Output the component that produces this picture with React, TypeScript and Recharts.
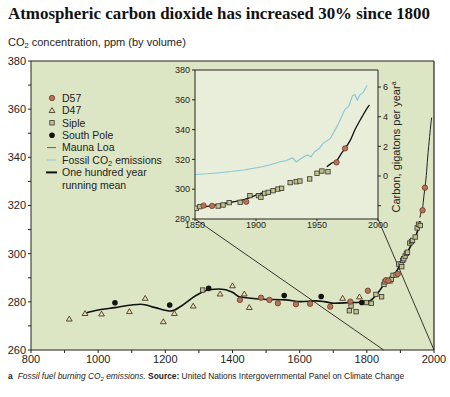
import React from 'react';
import {
  ComposedChart, Scatter, Line, XAxis, YAxis, CartesianGrid, ReferenceLine,
} from 'recharts';

// ice core samples (year, ppm)
const d57Years = [1422, 1485, 1510, 1535, 1589, 1631, 1691, 1751, 1803, 1857, 1864, 1892, 1966, 1973];
const d57Ppm = [280.8, 281.7, 280.8, 279.4, 279.0, 279.2, 278.0, 280.1, 284.6, 289.0, 288.8, 291.6, 318.0, 327.4];

const d47Years = [914, 961, 1010, 1093, 1140, 1194, 1227, 1283, 1363, 1400, 1435, 1450, 1728, 1778];
const d47Ppm = [272.9, 275.2, 275.0, 276.0, 281.5, 271.8, 275.2, 278.3, 283.3, 286.7, 283.3, 277.7, 281.5, 282.1];

const sipleYears = [1311, 1748, 1753, 1768, 1798, 1813, 1827, 1844, 1851, 1854, 1869, 1873, 1878, 1887, 1895,
  1902, 1904, 1907, 1910, 1914, 1918, 1921, 1928, 1933, 1936, 1944, 1950, 1954, 1959];
const siplePpm = [284.9, 276.3, 278.3, 275.9, 279.7, 279.4, 283.1, 282.1, 287.2, 288.3, 288.7, 289.4, 291.0, 291.2, 295.7,
  295.7, 294.6, 297.2, 297.9, 299.0, 300.1, 300.6, 304.4, 305.0, 305.5, 306.9, 310.7, 312.2, 311.7];

const poleYears = [1050, 1213, 1329, 1554, 1664, 1785];
const polePpm = [279.6, 278.7, 285.6, 282.6, 282.2, 279.7];

const meanYears = [961, 1000, 1050, 1100, 1127, 1170, 1217, 1250, 1290, 1330, 1361, 1400, 1420, 1480, 1559, 1604,
  1649, 1673, 1703, 1753, 1790, 1810, 1832, 1851, 1873, 1892, 1900, 1921, 1935, 1952, 1958];
const meanPpm = [275.3, 276.6, 277.6, 278.7, 279.0, 277.6, 276.2, 278.5, 282.5, 285.0, 285.3, 284.0, 282.1, 281.2, 280.8, 280.1,
  280.4, 280.1, 279.4, 279.7, 279.8, 280.5, 283.5, 287.2, 290.3, 293.5, 296.0, 300.6, 304.5, 309.8, 313.5];

const maunaYears = [1958, 1962, 1966, 1970, 1973, 1977, 1981, 1987, 1991, 1993];
const maunaPpm = [315.0, 317.5, 319.0, 324.0, 327.4, 332.4, 339.7, 348.7, 354.3, 356.5];

// fossil fuel carbon, gigatons per year
const fossilYears = [1850, 1860, 1870, 1880, 1890, 1898, 1905, 1911, 1920, 1925, 1930, 1933, 1936, 1942, 1945, 1948,
  1952, 1955, 1961, 1967, 1973, 1976, 1979, 1981, 1983, 1985, 1988, 1991];
const fossilGtc = [0.10, 0.15, 0.22, 0.30, 0.40, 0.52, 0.62, 0.74, 0.96, 1.05, 1.23, 0.95, 1.13, 1.42, 1.30, 1.64,
  1.87, 2.20, 2.54, 3.44, 4.50, 4.70, 5.40, 5.50, 5.12, 5.46, 5.66, 6.10];

const mainYearTicks = [800, 900, 1000, 1100, 1200, 1300, 1400, 1500, 1600, 1700, 1800, 1900, 2000];
const mainPpmTicks = [260, 270, 280, 290, 300, 310, 320, 330, 340, 350, 360, 370, 380];
const insetYearTicks = [1850, 1900, 1950, 2000];
const insetPpmTicks = [280, 300, 320, 340, 360, 380];
const carbonTicks = [-2, 0, 2, 4, 6];

const legendItems = [
  { kind: 'd57', label: 'D57' },
  { kind: 'd47', label: 'D47' },
  { kind: 'siple', label: 'Siple' },
  { kind: 'pole', label: 'South Pole' },
  { kind: 'mauna', label: 'Mauna Loa' },
  { kind: 'fossil', label: 'Fossil CO|2| emissions' },
  { kind: 'mean', label: 'One hundred year' },
  { kind: 'none', label: 'running mean' },
];

const zip = (years: number[], vals: number[], key = 'ppm') =>
  years.map((year, i) => ({ year, [key]: vals[i] }));

const d57 = zip(d57Years, d57Ppm);
const d47 = zip(d47Years, d47Ppm);
const siple = zip(sipleYears, siplePpm);
const pole = zip(poleYears, polePpm);
const mean = zip(meanYears, meanPpm);
const mauna = zip(maunaYears, maunaPpm);
const fossil = zip(fossilYears, fossilGtc, 'gtc');

const ink = '#26221c';
const font = '"Liberation Sans", Arial, sans-serif';
const mainBg = '#dce6c4';
const insetBg = '#e8eed9';
const fossilBlue = '#86c6d6';

// pixel boxes of the two plot areas
const MAIN = { left: 31, top: 61, right: 434, bottom: 350 };
const INSET = { left: 195, top: 70, right: 378, bottom: 219 };
const pxToYear = (px: number) => 800 + ((px - MAIN.left) * 1200) / (MAIN.right - MAIN.left);
const pxToPpm = (py: number) => 380 - ((py - MAIN.top) * 120) / (MAIN.bottom - MAIN.top);

function Marker({ kind, cx, cy }: { kind: string; cx: number; cy: number }) {
  if (kind === 'd57') return <circle cx={cx} cy={cy} r={2.7} fill="#b8735a" stroke="#6b3a26" strokeWidth={0.8} />;
  if (kind === 'pole') return <circle cx={cx} cy={cy} r={2.8} fill="#151310" />;
  if (kind === 'd47')
    return <path d={`M${cx},${cy - 2.8}L${cx + 2.9},${cy + 2.1}L${cx - 2.9},${cy + 2.1}Z`} fill="#eadcb6" stroke="#4a3a28" strokeWidth={0.9} />;
  if (kind === 'siple')
    return <rect x={cx - 2.2} y={cy - 2.2} width={4.4} height={4.4} fill="#c2c28c" stroke="#333" strokeWidth={0.8} />;
  return null;
}

const shapeOf = (kind: string) => (p: any) => <Marker kind={kind} cx={p.cx} cy={p.cy} />;

function LegendBox({ x, y }: { x: number; y: number }) {
  return (
    <g transform={`translate(${x},${y})`}>
      {legendItems.map((it, i) => {
        const ry = i * 12.4;
        const parts = it.label.split('|');
        return (
          <g key={it.label}>
            {it.kind === 'mauna' && <line x1={2} x2={11} y1={ry} y2={ry} stroke="#444" strokeWidth={0.8} />}
            {it.kind === 'fossil' && <line x1={2} x2={11} y1={ry} y2={ry} stroke={fossilBlue} strokeWidth={1} />}
            {it.kind === 'mean' && <line x1={1} x2={12} y1={ry} y2={ry} stroke="#111" strokeWidth={2} />}
            <Marker kind={it.kind} cx={7} cy={ry} />
            <text x={17} y={ry + 3.8} fontSize={10.5} fill={ink} fontFamily={font}>
              {parts[0]}
              {parts.length > 1 && <tspan fontSize={7.5} dy={2.5}>{parts[1]}</tspan>}
              {parts.length > 1 && <tspan dy={-2.5}>{parts[2]}</tspan>}
            </text>
          </g>
        );
      })}
    </g>
  );
}

const tickStyle = { fill: ink, fontSize: 11, fontFamily: font };

export default function App() {
  const leftCorner = { x: pxToYear(INSET.left), y: pxToPpm(INSET.bottom) };
  const rightCorner = { x: pxToYear(INSET.right), y: pxToPpm(INSET.bottom) };
  const late = (arr: any[]) => arr.filter((p) => p.year >= 1850);

  return (
    <div style={{ position: 'absolute', left: 0, top: 0, width: 450, height: 397, background: '#fff', overflow: 'hidden' }}>
      <ComposedChart width={450} height={397} margin={{ top: 61, right: 16, bottom: 27, left: 0 }}>
        <CartesianGrid fill={mainBg} stroke="none" />
        <XAxis
          type="number" dataKey="year" domain={[800, 2000]} ticks={mainYearTicks} height={20}
          tickFormatter={(v) => (v % 200 === 0 ? String(v) : '')}
          tick={tickStyle} tickSize={3} stroke={ink} allowDataOverflow
        />
        <YAxis
          type="number" domain={[260, 380]} ticks={mainPpmTicks} width={31}
          tickFormatter={(v) => (v % 20 === 0 ? String(v) : '')}
          tick={tickStyle} tickSize={3} stroke={ink} allowDataOverflow
        />
        <ReferenceLine y={380} stroke={ink} strokeWidth={1.2} />
        <ReferenceLine x={2000} stroke={ink} strokeWidth={1.2} />
        <ReferenceLine segment={[leftCorner, { x: 1850, y: 260 }]} stroke={ink} strokeWidth={0.9} ifOverflow="visible" />
        <ReferenceLine segment={[rightCorner, { x: 2000, y: 260 }]} stroke={ink} strokeWidth={0.9} ifOverflow="visible" />
        <Line data={mean} dataKey="ppm" type="monotone" stroke="#111" strokeWidth={1.6} dot={false} isAnimationActive={false} />
        <Line data={mauna} dataKey="ppm" type="monotone" stroke="#222" strokeWidth={1} dot={false} isAnimationActive={false} />
        <Scatter data={d47} dataKey="ppm" shape={shapeOf('d47')} isAnimationActive={false} />
        <Scatter data={siple} dataKey="ppm" shape={shapeOf('siple')} isAnimationActive={false} />
        <Scatter data={d57} dataKey="ppm" shape={shapeOf('d57')} isAnimationActive={false} />
        <Scatter data={pole} dataKey="ppm" shape={shapeOf('pole')} isAnimationActive={false} />
      </ComposedChart>

      <div style={{ position: 'absolute', left: 165, top: 62 }}>
        <ComposedChart width={243} height={172} margin={{ top: 8, right: 0, bottom: 0, left: 0 }}>
          <CartesianGrid fill={insetBg} stroke="none" />
          <XAxis
            type="number" dataKey="year" domain={[1850, 2000]} ticks={insetYearTicks} height={15}
            tick={{ ...tickStyle, fontSize: 9 }} tickSize={2} tickMargin={1} stroke={ink} allowDataOverflow
          />
          <YAxis
            yAxisId="ppm" type="number" domain={[280, 380]} ticks={insetPpmTicks} width={30}
            tick={{ ...tickStyle, fontSize: 9 }} tickSize={3} stroke={ink} allowDataOverflow
          />
          <YAxis
            yAxisId="gtc" orientation="right" type="number" domain={[-2.9, 7.15]} ticks={carbonTicks} width={30}
            tickFormatter={(v) => (v < 0 ? '' : String(v))}
            tick={{ ...tickStyle, fontSize: 9 }} tickSize={3} stroke={ink} allowDataOverflow
          />
          <ReferenceLine yAxisId="ppm" y={380} stroke={ink} strokeWidth={1.2} />
          <Line yAxisId="gtc" data={fossil} dataKey="gtc" type="linear" stroke={fossilBlue} strokeWidth={1.1} dot={false} isAnimationActive={false} />
          <Line yAxisId="ppm" data={mean.filter((p) => p.year >= 1850 && p.year <= 1921)} dataKey="ppm" type="monotone" stroke="#111" strokeWidth={1.4} dot={false} isAnimationActive={false} />
          <Line yAxisId="ppm" data={mauna} dataKey="ppm" type="monotone" stroke="#111" strokeWidth={1.3} dot={false} isAnimationActive={false} />
          <Scatter yAxisId="ppm" data={late(siple)} dataKey="ppm" shape={shapeOf('siple')} isAnimationActive={false} />
          <Scatter yAxisId="ppm" data={late(d57)} dataKey="ppm" shape={shapeOf('d57')} isAnimationActive={false} />
        </ComposedChart>
      </div>

      <svg width={450} height={397} style={{ position: 'absolute', left: 0, top: 0, pointerEvents: 'none' }}>
        <text x={8} y={19} fontSize={16.5} fontWeight={700} fontFamily='"Liberation Serif", "Times New Roman", serif'
          fill="#111" textLength={422} lengthAdjust="spacingAndGlyphs">
          Atmospheric carbon dioxide has increased 30% since 1800
        </text>
        <text x={8} y={45.5} fontSize={11} fontFamily={font} fill={ink}>
          CO<tspan fontSize={7.5} dy={2.5}>2</tspan><tspan dy={-2.5}> concentration, ppm (by volume)</tspan>
        </text>
        <LegendBox x={45} y={98} />
        <text transform="translate(400,147) rotate(-90)" textAnchor="middle" fontSize={11} fontFamily={font} fill={ink}>
          Carbon, gigatons per year<tspan fontSize={7} dy={-4}>a</tspan>
        </text>
        <text x={8} y={379} fontSize={8.4} fontFamily={font} fill={ink}>
          <tspan fontWeight={700}>a</tspan>
          <tspan dx={5} fontStyle="italic">Fossil fuel burning CO</tspan>
          <tspan fontStyle="italic" fontSize={6} dy={2}>2</tspan>
          <tspan fontStyle="italic" dy={-2}> emissions. </tspan>
          <tspan fontWeight={700}>Source:</tspan>
          <tspan> United Nations Intergovernmental Panel on Climate Change</tspan>
        </text>
      </svg>
    </div>
  );
}
